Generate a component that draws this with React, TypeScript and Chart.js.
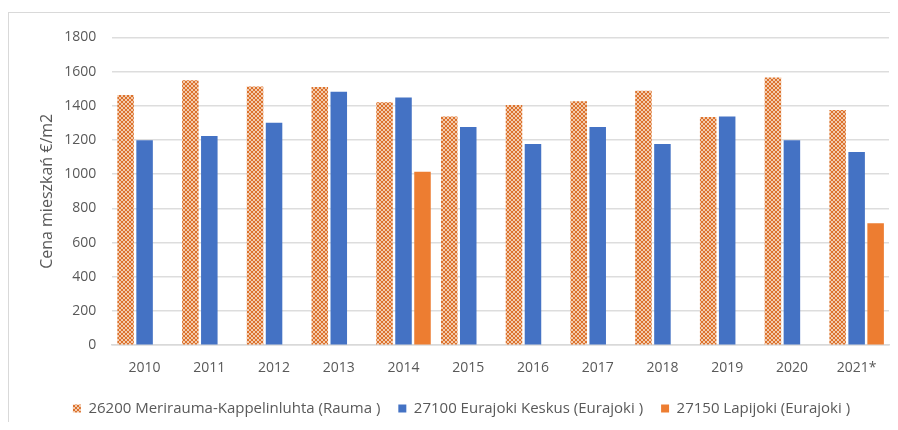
import React, { useEffect, useRef } from "react";
import { Chart, registerables } from "chart.js";

Chart.register(...registerables);

const years = ["2010", "2011", "2012", "2013", "2014", "2015", "2016", "2017", "2018", "2019", "2020", "2021*"];
const rauma = [1463, 1550, 1513, 1510, 1421, 1338, 1405, 1426, 1488, 1335, 1565, 1376];
const eurajoki = [1199, 1224, 1301, 1482, 1448, 1276, 1176, 1276, 1176, 1338, 1199, 1130];
const lapijoki = [null, null, null, null, 1014, null, null, null, null, null, null, 713];
const seriesNames = [
  "26200 Merirauma-Kappelinluhta (Rauma )",
  "27100 Eurajoki Keskus (Eurajoki )",
  "27150 Lapijoki (Eurajoki )",
];

function makePattern(): CanvasPattern | string {
  const c = document.createElement("canvas");
  c.width = 4;
  c.height = 4;
  const g = c.getContext("2d");
  if (!g) return "#ED7D31";
  g.fillStyle = "#f3cbad";
  g.fillRect(0, 0, 4, 4);
  g.fillStyle = "#dc722d";
  g.fillRect(0, 0, 2, 2);
  g.fillRect(2, 2, 2, 2);
  const p = g.createPattern(c, "repeat");
  return p || "#ED7D31";
}

export default function App() {
  const ref = useRef<HTMLCanvasElement | null>(null);
  useEffect(() => {
    if (!ref.current) return;
    const font = { family: "'Open Sans', sans-serif", size: 14 };
    const chart = new Chart(ref.current, {
      type: "bar",
      data: {
        labels: years,
        datasets: [
          { label: seriesNames[0], data: rauma, backgroundColor: makePattern() as any },
          { label: seriesNames[1], data: eurajoki, backgroundColor: "#4472C4" },
          { label: seriesNames[2], data: lapijoki, backgroundColor: "#ED7D31" },
        ],
      },
      options: {
        animation: false,
        responsive: false,
        maintainAspectRatio: false,
        layout: { padding: { top: 19, right: 9, left: 25, bottom: 0 } },
        datasets: { bar: { categoryPercentage: 0.88, barPercentage: 0.87 } },
        plugins: {
          tooltip: { enabled: false },
          legend: {
            position: "bottom",
            labels: {
              boxWidth: 8,
              boxHeight: 8,
              padding: 18,
              color: "#595959",
              font: { family: "'Open Sans', sans-serif", size: 15 },
            },
          },
        },
        scales: {
          x: {
            grid: { display: false, drawTicks: false },
            border: { display: true, color: "#d9d9d9", width: 1.5 },
            ticks: { color: "#595959", font, padding: 14 },
            afterFit: (scale: any) => {
              scale.height -= 7;
            },
          },
          y: {
            min: 0,
            max: 1800,
            ticks: {
              stepSize: 200,
              color: "#595959",
              font,
              padding: 16,
              callback: (v: any) => String(v),
            },
            grid: { color: "#dddddd", lineWidth: 1.5, drawTicks: false },
            border: { display: false },
            title: {
              display: true,
              text: "Cena mieszkań €/m2",
              color: "#595959",
              font: { family: "'Open Sans', sans-serif", size: 16 },
              padding: { top: 4, bottom: -9 },
            },
          },
        },
      },
    });
    return () => chart.destroy();
  }, []);
  return (
    <div
      style={{
        position: "relative",
        top: 4,
        width: 890,
        height: 414,
        borderLeft: "1px solid #d9d9d9",
        borderTop: "1px solid #d9d9d9",
        boxSizing: "border-box",
      }}
    >
      <canvas ref={ref} width={889} height={413} style={{ display: "block" }} />
    </div>
  );
}
